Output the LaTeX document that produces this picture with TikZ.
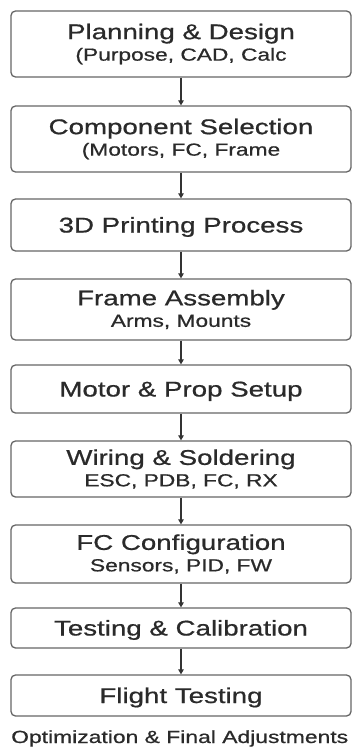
\documentclass[tikz,border=0pt]{standalone}
\usepackage{fontspec}
\usepackage{xcolor}
\usepackage{tikz}
\usetikzlibrary{positioning}
\usetikzlibrary{arrows.meta}
\usetikzlibrary{calc}

\newfontfamily\boxfont[FakeStretch=1.3,FakeBold=0.7]{Liberation Sans}
\newcommand{\subtxt}[1]{{\fontsize{17.5}{21}\selectfont #1}}

\definecolor{boxline}{HTML}{666666}
\definecolor{boxtext}{HTML}{2A2A2A}

\tikzset{
  stepbox/.style={draw=boxline, line width=1.3pt, rounded corners=4.5pt, fill=white,
    minimum width=340pt, align=center, text=boxtext,
    font=\boxfont\fontsize{21.3}{21.5}\selectfont, inner sep=0pt},
  onebox/.style={stepbox, text height=15pt, text depth=0pt},
  flow/.style={draw=black!80, line width=1.1pt, -{Triangle[length=5pt,width=5.5pt]}}
}

\begin{document}
\begin{tikzpicture}[x=1pt,y=-1pt]
\useasboundingbox[fill=white] (0,0) rectangle (357,749);

\node[stepbox, minimum height=66pt] (plan) at (181,44) {Planning \& Design\\\subtxt{(Purpose, CAD, Calc}};
\node[stepbox, minimum height=66pt] (comp) at (181,139) {Component Selection\\\subtxt{(Motors, FC, Frame}};
\node[onebox, minimum height=52pt] (print) at (181,225) {3D Printing Process};
\node[stepbox, minimum height=61pt] (frame) at (181,309.5) {Frame Assembly\\\subtxt{Arms, Mounts}};
\node[onebox, minimum height=48pt] (motor) at (181,389) {Motor \& Prop Setup};
\node[stepbox, minimum height=56pt] (wire) at (181,469) {Wiring \& Soldering\\\subtxt{ESC, PDB, FC, RX}};
\node[stepbox, minimum height=58pt] (fccfg) at (181,554) {FC Configuration\\\subtxt{Sensors, PID, FW}};
\node[onebox, minimum height=40pt] (test) at (181,628) {Testing \& Calibration};
\node[onebox, minimum height=41pt] (flight) at (181,695.5) {Flight Testing};

\node[anchor=base west, inner sep=0pt, text=boxtext, font=\boxfont\fontsize{17.6}{21}\selectfont] (optim) at (11,743) {Optimization \& Final Adjustments};

\draw[flow] (plan.south) -- (comp.north);
\draw[flow] (comp.south) -- (print.north);
\draw[flow] (print.south) -- (frame.north);
\draw[flow] (frame.south) -- (motor.north);
\draw[flow] (motor.south) -- (wire.north);
\draw[flow] (wire.south) -- (fccfg.north);
\draw[flow] (fccfg.south) -- (test.north);
\draw[flow] (test.south) -- (flight.north);
\end{tikzpicture}
\end{document}
